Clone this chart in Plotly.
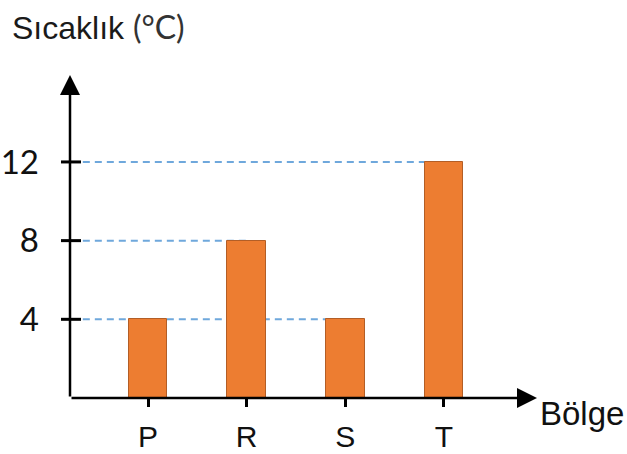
import plotly.graph_objects as go

# ---- data ----
categories = ["P", "R", "S", "T"]
temperatures = [4, 8, 4, 12]
y_ticks = [4, 8, 12]
y_title = "Sıcaklık"
y_unit = "(°C)"
x_title = "Bölge"

# ---- layout geometry (pixels) ----
W, H = 627, 454
ML, MR, MT, MB = 70, 90, 75, 56
PW = W - ML - MR
PH = H - MT - MB

def px_x(p):
    return (p - ML) / PW

def px_y(p):
    return (H - MB - p) / PH

x_idx = list(range(len(categories)))
xr = [-0.792, 3.944]
yr = [0, 16.42]

fig = go.Figure()
fig.add_trace(go.Bar(
    x=x_idx, y=temperatures, width=0.39,
    marker=dict(color="#ED7D31", line=dict(color="#B35E26", width=1)),
    hoverinfo="skip",
))

shapes = []
# dashed guide lines, behind bars, ending at the last bar with that value
for v in y_ticks:
    idxs = [i for i, t in enumerate(temperatures) if t == v]
    if not idxs:
        continue
    shapes.append(dict(type="line", layer="below", xref="x", yref="y",
                       x0=xr[0] + 0.13, x1=idxs[-1], y0=v, y1=v,
                       line=dict(color="#6FA8DC", width=2, dash="7px,5px")))
# y tick marks crossing axis (paper coords so they are not clipped)
for v in y_ticks:
    yp = (v - yr[0]) / (yr[1] - yr[0])
    shapes.append(dict(type="line", xref="paper", yref="paper",
                       x0=px_x(61), x1=px_x(81), y0=yp, y1=yp,
                       line=dict(color="black", width=3)))

annotations = [
    # y axis with arrow
    dict(xref="paper", yref="paper", x=0, y=1, ax=0, ay=PH, axref="pixel", ayref="pixel",
         text="", showarrow=True, arrowhead=2, arrowsize=1.6, arrowwidth=2.5,
         arrowcolor="black", standoff=0, startstandoff=0),
    # x axis with arrow
    dict(xref="paper", yref="paper", x=1, y=0, ax=-PW, ay=0,
         text="", showarrow=True, arrowhead=2, arrowsize=1.6, arrowwidth=2.5,
         arrowcolor="black", standoff=0, startstandoff=0),
    dict(xref="paper", yref="paper", x=px_x(538), y=px_y(414), xanchor="left", yanchor="middle",
         text=x_title, showarrow=False,
         font=dict(family="Liberation Sans, Arial", size=33, color="#111")),
    dict(xref="paper", yref="paper", x=px_x(10), y=px_y(26), xanchor="left", yanchor="middle",
         text=y_title + " <span style='font-family:Lato;color:#333'>" + y_unit + "</span>",
         showarrow=False,
         font=dict(family="Liberation Sans, Arial", size=32, color="#1a1a1a")),
]

fig.update_layout(
    width=W, height=H,
    margin=dict(l=ML, r=MR, t=MT, b=MB, autoexpand=False),
    paper_bgcolor="white", plot_bgcolor="white",
    showlegend=False, bargap=0,
    shapes=shapes, annotations=annotations,
    xaxis=dict(range=xr, tickmode="array", tickvals=x_idx, ticktext=categories,
               ticks="outside", ticklen=8, tickwidth=3, tickcolor="black",
               ticklabelstandoff=4,
               showgrid=False, zeroline=False, showline=False, automargin=False,
               tickfont=dict(family="Liberation Sans, Arial", size=30, color="#111")),
    yaxis=dict(range=yr, tickmode="array", tickvals=y_ticks,
               ticktext=[str(v) for v in y_ticks], ticks="",
               ticklabelstandoff=30, automargin=False,
               showgrid=False, zeroline=False, showline=False,
               tickfont=dict(family="Lato", size=33, color="#111")),
)

fig.write_html("out.html", config={"displayModeBar": False},
               post_script="document.body.style.margin='0';document.body.style.overflow='hidden';")
